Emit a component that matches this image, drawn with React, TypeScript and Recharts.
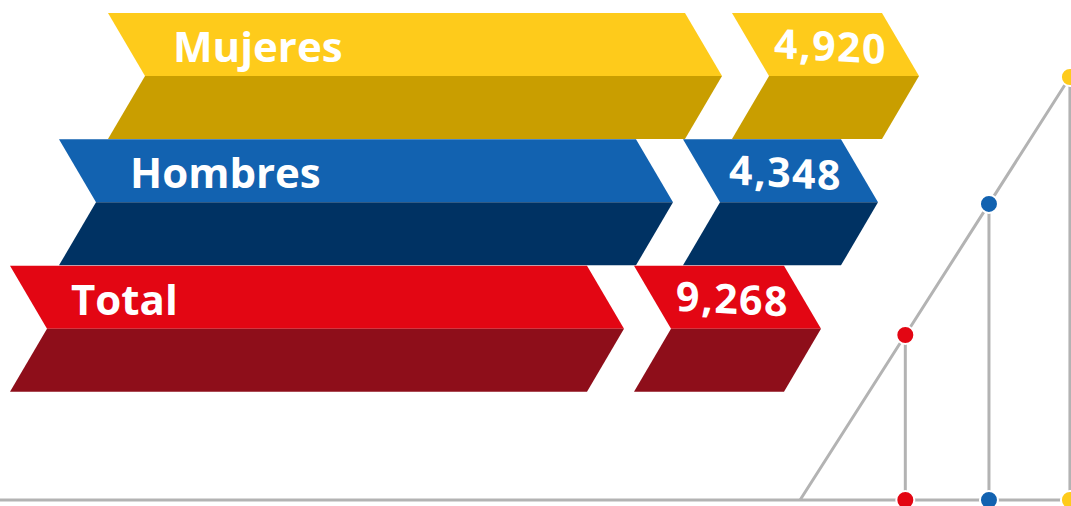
import { BarChart, Bar, XAxis, YAxis, ComposedChart, Line, ReferenceLine } from 'recharts';

const categories = ['Mujeres', 'Hombres', 'Total'];
const values = [4920, 4348, 9268];

// right-hand decoration: steps along the diagonal, in % of the highest step
const stepX = [0, 39, 70, 100];
const stepY = [0, 39, 70, 100];

const topColors = ['#fecb1b', '#1262b0', '#e30613'];
const sideColors = ['#c99e00', '#003263', '#8e0e1a'];
const stepColors = ['none', '#e30613', '#1262b0', '#fecb1b'];

const rows = categories.map((name, i) => ({ name, value: values[i] }));
const deco = stepX.map((x, i) => ({ x, y: stepY[i], base: 0 }));

const W = 1071;
const H = 506;
const SLANT = 37;
const MAIN_W = 577;
const NUM_W = [150, 158, 150];
const NAME_PAD = [65, 71, 61];
const GRAY = '#b3b3b3';
const FONT = '"Open Sans", sans-serif';

function Chevron(props: any) {
  const { y, height, index, payload } = props;
  const n = categories.length;
  const mid = y + height / 2;
  const bot = y + height;
  const left = 10 + (n - 1 - index) * 49;
  const right = left + MAIN_W;
  const nl = right + SLANT + 10;
  const nr = nl + NUM_W[index];

  const half = (l: number, r: number) => ({
    top: `${l},${y} ${r},${y} ${r + SLANT},${mid} ${l + SLANT},${mid}`,
    side: `${l + SLANT},${mid} ${r + SLANT},${mid} ${r},${bot} ${l},${bot}`,
  });
  const a = half(left, right);
  const b = half(nl, nr);
  const numX = nl + (NUM_W[index] + SLANT) / 2 + 5;
  const numY = y + 48;

  return (
    <g>
      <polygon points={a.top} fill={topColors[index]} />
      <polygon points={a.side} fill={sideColors[index]} />
      <polygon points={b.top} fill={topColors[index]} />
      <polygon points={b.side} fill={sideColors[index]} />
      <text x={left + NAME_PAD[index]} y={y + 49} fill="#fff" fontFamily={FONT} fontWeight={700} fontSize={42}>
        {payload.name}
      </text>
      <text
        x={numX}
        y={numY}
        fill="#fff"
        fontFamily={FONT}
        fontWeight={700}
        fontSize={41}
        letterSpacing={1.5}
        textAnchor="middle"
        transform={`translate(${numX},${numY - 14}) skewY(3) translate(${-numX},${-(numY - 14)})`}
      >
        {payload.value.toLocaleString('en-US')}
      </text>
    </g>
  );
}

function StepDot(props: any) {
  const { cx, cy, index } = props;
  if (index === 0) return <g key={`d-${index}`} />;
  return <circle key={`d-${index}`} cx={cx} cy={cy} r={9} fill={stepColors[index]} stroke="#fff" strokeWidth={2} />;
}

export default function App() {
  return (
    <div style={{ position: 'absolute', left: 0, top: 0, width: W, height: H, background: '#fff', overflow: 'hidden' }}>
      <div style={{ position: 'absolute', left: 0, top: 0 }}>
        <ComposedChart width={W} height={H} data={deco} margin={{ top: 77, right: 0, bottom: 6, left: 0 }}>
          <XAxis type="number" dataKey="x" domain={[-296.5, 100.4]} hide />
          <YAxis type="number" domain={[0, 100]} hide />
          <ReferenceLine y={0} stroke={GRAY} strokeWidth={3} />
          {deco.slice(1).map((d) => (
            <ReferenceLine
              key={d.x}
              segment={[{ x: d.x, y: 0 }, { x: d.x, y: d.y }]}
              stroke={GRAY}
              strokeWidth={3}
            />
          ))}
          <Line dataKey="y" type="linear" stroke={GRAY} strokeWidth={3} dot={StepDot} activeDot={false} isAnimationActive={false} />
          <Line dataKey="base" type="linear" stroke="none" dot={StepDot} activeDot={false} isAnimationActive={false} />
        </ComposedChart>
      </div>
      <div style={{ position: 'absolute', left: 0, top: 0 }}>
        <BarChart
          width={W}
          height={H}
          data={rows}
          layout="vertical"
          barCategoryGap={0}
          margin={{ top: 13, right: 0, bottom: 114, left: 0 }}
        >
          <XAxis type="number" hide />
          <YAxis type="category" dataKey="name" hide />
          <Bar dataKey="value" shape={Chevron} isAnimationActive={false} />
        </BarChart>
      </div>
    </div>
  );
}
